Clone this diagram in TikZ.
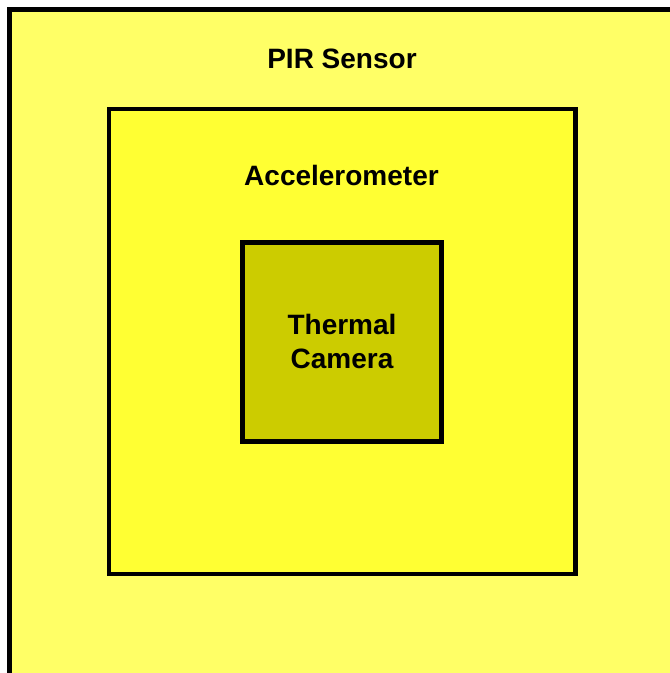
\documentclass[tikz,border=0pt]{standalone}
\usepackage{fontspec}
\setmainfont{Liberation Sans}
\definecolor{pirfill}{HTML}{FFFF66}
\definecolor{accfill}{HTML}{FFFF33}
\definecolor{camfill}{HTML}{CCCC00}
\begin{document}
\begin{tikzpicture}[x=1pt,y=-1pt,
  box/.style={draw=black,line width=4.5pt,inner sep=0pt,outer sep=0pt},
  lbl/.style={font=\bfseries\fontsize{28}{33.5}\selectfont,align=center,inner sep=0pt}]
\useasboundingbox (0,0) rectangle (670,673);
\clip (0,0) rectangle (670,673);
\fill[white] (0,0) rectangle (670,673);
\node[box,fill=pirfill,anchor=north west,minimum width=720pt,minimum height=720pt] (pir) at (9.5,9.5) {};
\node[box,fill=accfill,minimum width=466.5pt,minimum height=465pt] (acc) at (342.25,341.5) {};
\node[box,fill=camfill,minimum width=199.2pt,minimum height=199.2pt] (cam) at (342.1,342.1) {};
\node[lbl,anchor=base] (pirlbl) at (342,68) {PIR Sensor};
\node[lbl,anchor=base] (acclbl) at (341.5,185) {Accelerometer};
\node[lbl,anchor=center] (camlbl) at (342,341.5) {Thermal\\Camera};
\end{tikzpicture}
\end{document}
